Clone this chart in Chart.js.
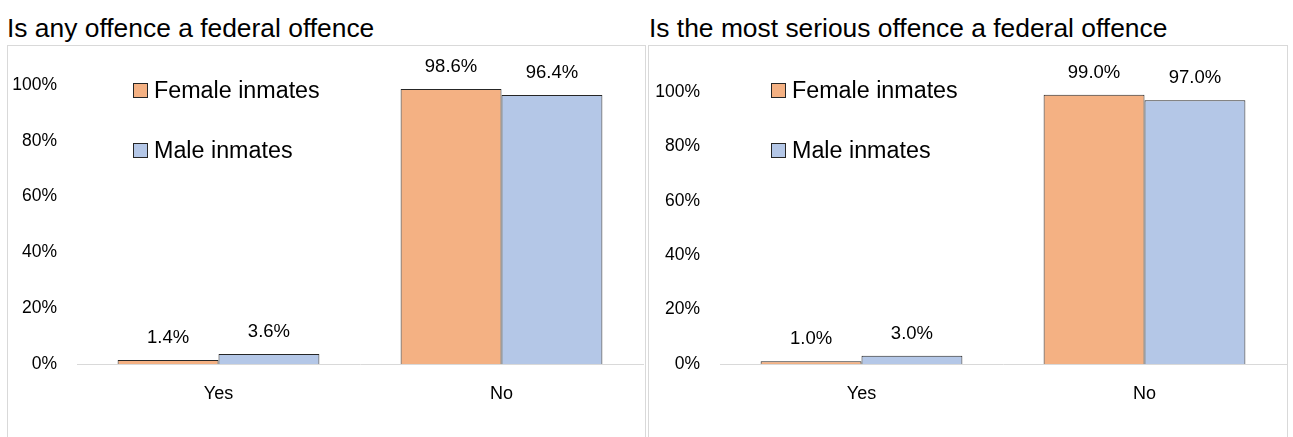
<!DOCTYPE html>
<html>
<head>
<meta charset="utf-8">
<script src="https://cdn.jsdelivr.net/npm/chart.js@4.4.1/dist/chart.umd.min.js"></script>
<style>
  html, body { margin: 0; padding: 0; background: #ffffff; width: 1293px; height: 437px; overflow: hidden; }
  .title { position: absolute; top: 15px; font-family: "Liberation Sans", Arial, sans-serif; font-size: 26.4px; line-height: 1; color: #000; white-space: nowrap; }
  .box { position: absolute; top: 45px; height: 420px; border: 1px solid #d9d9d9; box-sizing: border-box; }
  canvas { position: absolute; }
</style>
</head>
<body>
<div class="title" id="t1" style="left:7px;"></div>
<div class="title" id="t2" style="left:649px;"></div>
<div class="box" style="left:7px; width:639px;"></div>
<div class="box" style="left:648px; width:640px;"></div>
<div style="position:absolute; left:8px; top:46px; width:636px; height:391px;"><canvas id="c1" width="636" height="391"></canvas></div>
<div style="position:absolute; left:649px; top:46px; width:638px; height:391px;"><canvas id="c2" width="638" height="391"></canvas></div>
<script>
// ---- Data ----
const categories = ["Yes", "No"];
const seriesNames = ["Female inmates", "Male inmates"];
const anyOffenceFemale = [1.4, 98.6];
const anyOffenceMale = [3.6, 96.4];
const mostSeriousFemale = [1.0, 99.0];
const mostSeriousMale = [3.0, 97.0];
const yTicks = [0, 20, 40, 60, 80, 100];
const titles = ["Is any offence a federal offence", "Is the most serious offence a federal offence"];

// ---- Style ----
const FONT = '"Liberation Sans", Arial, sans-serif';
const colors = ["#F4B183", "#B4C7E7"];
const edge = "#262626";

document.getElementById("t1").textContent = titles[0];
document.getElementById("t2").textContent = titles[1];

const dataLabelPlugin = {
  id: "dataLabels",
  afterDatasetsDraw(chart) {
    const ctx = chart.ctx;
    ctx.save();
    ctx.font = "18.5px " + FONT;
    ctx.fillStyle = "#000";
    ctx.textAlign = "center";
    ctx.textBaseline = "middle";
    chart.data.datasets.forEach((ds, i) => {
      chart.getDatasetMeta(i).data.forEach((bar, j) => {
        ctx.fillText(ds.data[j].toFixed(1) + "%", bar.x, bar.y - 22);
      });
    });
    ctx.restore();
  }
};

const customLegend = {
  id: "customLegend",
  afterDraw(chart, args, opts) {
    const ctx = chart.ctx;
    ctx.save();
    ctx.font = "23.3px " + FONT;
    ctx.textBaseline = "middle";
    ctx.textAlign = "left";
    chart.data.datasets.forEach((ds, i) => {
      const x = chart.chartArea.left + opts.offsetX;
      const y = opts.firstY + i * opts.rowGap;
      ctx.fillStyle = ds.backgroundColor;
      ctx.fillRect(x, y - 7.5, 15, 15);
      ctx.strokeStyle = edge;
      ctx.lineWidth = 1;
      ctx.strokeRect(x + 0.5, y - 7, 14, 14);
      ctx.fillStyle = "#000";
      ctx.fillText(ds.label, x + 21, y + 1);
    });
    ctx.restore();
  }
};

function makeChart(id, female, male, topPad, yWidth, legendOffset) {
  return new Chart(document.getElementById(id), {
    type: "bar",
    data: {
      labels: categories,
      datasets: [
        { label: seriesNames[0], data: female, backgroundColor: colors[0], borderColor: edge, borderWidth: 1 },
        { label: seriesNames[1], data: male, backgroundColor: colors[1], borderColor: edge, borderWidth: 1 }
      ]
    },
    options: {
      responsive: false,
      animation: false,
      events: [],
      datasets: { bar: { categoryPercentage: 0.713, barPercentage: 1.0 } },
      layout: { padding: { top: topPad, left: 0, right: 1, bottom: 0 } },
      plugins: {
        legend: { display: false },
        tooltip: { enabled: false },
        customLegend: { offsetX: legendOffset, firstY: 44.5, rowGap: 60 }
      },
      scales: {
        x: {
          grid: { display: false, drawTicks: false },
          border: { display: true, color: "#d9d9d9", width: 1 },
          ticks: { color: "#000", font: { family: FONT, size: 18 }, padding: 19 },
          afterFit(scale) { scale.height = 73; }
        },
        y: {
          min: 0, max: 100,
          afterBuildTicks(scale) { scale.ticks = yTicks.map(v => ({ value: v })); },
          grid: { display: false, drawTicks: false },
          border: { display: false },
          ticks: { color: "#000", font: { family: FONT, size: 17.5 }, padding: 20, callback: v => v + "%" },
          afterFit(scale) { scale.width = yWidth; }
        }
      }
    },
    plugins: [dataLabelPlugin, customLegend]
  });
}

makeChart("c1", anyOffenceFemale, anyOffenceMale, 39, 69, 56);
makeChart("c2", mostSeriousFemale, mostSeriousMale, 46, 71, 51);
</script>
</body>
</html>
